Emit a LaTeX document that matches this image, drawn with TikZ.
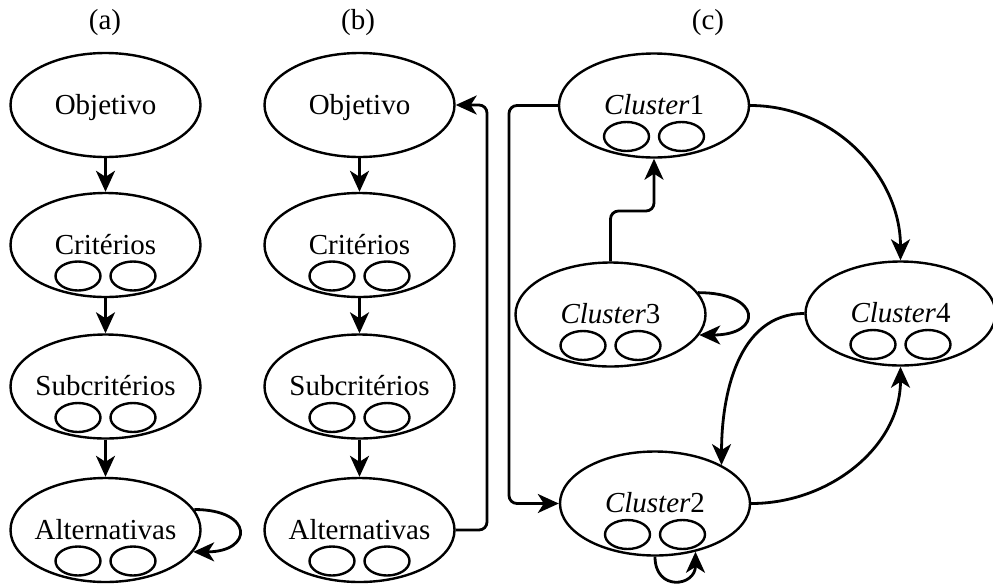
\documentclass[tikz,border=0pt]{standalone}
\usepackage{fontspec}
\setmainfont{Liberation Serif}
\usetikzlibrary{shapes.geometric,arrows.meta}

% big ellipse with its caption: name, x, y (downwards), text
\newcommand\bignode[4]{%
  \node[bigell] (#1) at (#2,-#3) {};
  \node[lbl] (#1-txt) at (#2,-#3-9) {#4};}
% the two small element ellipses inside a big one
\newcommand\elems[1]{%
  \node[smallell] (#1-l) at ([shift={(-27.5,-31)}]#1.center) {};
  \node[smallell] (#1-r) at ([shift={(27.5,-31)}]#1.center) {};}

\begin{document}
\begin{tikzpicture}[x=1pt,y=1pt,
  font=\fontsize{29pt}{34pt}\selectfont,
  bigell/.style={ellipse, draw, line width=2.4pt, minimum width=190pt,
    minimum height=104pt, inner sep=0pt},
  smallell/.style={ellipse, draw, line width=2.4pt, minimum width=45pt,
    minimum height=29pt, inner sep=0pt},
  lbl/.style={anchor=base, inner sep=0pt},
  conn/.style={line width=2.8pt,
    -{Stealth[length=21pt, width=19pt, inset=6pt]}},
  ortho/.style={conn, rounded corners=8pt}]
\useasboundingbox (0,0) rectangle (993,-587);

% panel titles
\node (ha) at (105,-23) {(a)};
\node (hb) at (358,-23) {(b)};
\node (hc) at (708,-23) {(c)};

% (a) hierarchy
\bignode{obja}{105.5}{105}{Objetivo}
\bignode{cria}{105.5}{245}{Critérios}\elems{cria}
\bignode{suba}{105.5}{386.5}{Subcritérios}\elems{suba}
\bignode{alta}{105.5}{530}{Alternativas}\elems{alta}

% (b) hierarchy with feedback
\bignode{objb}{359.5}{105}{Objetivo}
\bignode{crib}{359.5}{245}{Critérios}\elems{crib}
\bignode{subb}{359.5}{386.5}{Subcritérios}\elems{subb}
\bignode{altb}{359.5}{530}{Alternativas}\elems{altb}

% (c) network of clusters
\bignode{c1}{654}{105.5}{\textit{Cluster}1}\elems{c1}
\bignode{c3}{610.5}{314.5}{\textit{Cluster}3}\elems{c3}
\bignode{c4}{900.5}{313.5}{\textit{Cluster}4}\elems{c4}
\bignode{c2}{655}{503.5}{\textit{Cluster}2}\elems{c2}

% (a) connectors
\draw[conn] (obja) -- (cria);
\draw[conn] (cria) -- (suba);
\draw[conn] (suba) -- (alta);
\draw[conn] (alta.13) .. controls +(60,0) and +(60,0) .. (alta.346);

% (b) connectors
\draw[conn] (objb) -- (crib);
\draw[conn] (crib) -- (subb);
\draw[conn] (subb) -- (altb);
\coordinate (fbx) at (487,0);
\draw[ortho] (altb.east) -- (altb.east -| fbx) -- (objb.east -| fbx) -- (objb.east);

% (c) connectors
\coordinate (lx) at (509,0);
\draw[ortho] (c1.west) -- (c1.west -| lx) -- (c2.west -| lx) -- (c2.west);
\coordinate (my) at (0,-211);
\draw[ortho] (c3.north) -- (c3.north |- my) -- (c1.south |- my) -- (c1.south);
\draw[conn] (c1.east) to[out=0, in=90] (c4.north);
\draw[conn] (c4.west) to[out=180, in=90] (c2.30);
\draw[conn] (c2.east) to[out=0, in=-90] (c4.south);
\draw[conn] (c3.14) .. controls +(64,0) and +(64,0) .. (c3.347);
\draw[conn] (c2.south) .. controls +(0,-35) and +(0,-35) .. (c2.310);
\end{tikzpicture}
\end{document}
